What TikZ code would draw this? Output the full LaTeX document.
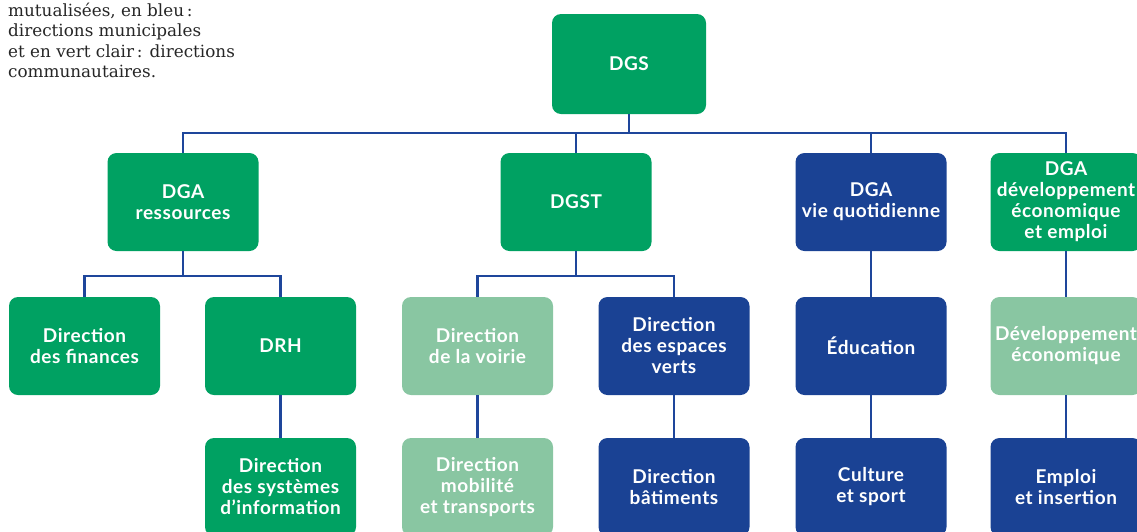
\documentclass[tikz,border=0pt]{standalone}
\usepackage{fontspec}
\newfontfamily\boxfont{Lato}[LetterSpace=3]
\newfontfamily\notefont{DejaVu Serif}
\definecolor{dgreen}{RGB}{0,161,98}
\definecolor{lgreen}{RGB}{137,198,162}
\definecolor{dblue}{RGB}{26,66,148}
\definecolor{lineblue}{RGB}{30,70,155}
\tikzset{
  orgbox/.style={rounded corners=9pt, minimum width=151pt, minimum height=98pt,
    inner sep=0pt, text=white, align=center,
    font=\boxfont\bfseries\fontsize{19}{21}\selectfont},
  gbox/.style={orgbox, fill=dgreen},
  lbox/.style={orgbox, fill=lgreen},
  bbox/.style={orgbox, fill=dblue},
  conn/.style={draw=lineblue, line width=2.7pt},
  note/.style={anchor=base west, inner sep=0pt, text=black!85,
    font=\notefont\fontsize{16.8}{20}\selectfont}
}
\begin{document}
\begin{tikzpicture}[x=1pt,y=-1pt]
\useasboundingbox (0,0) rectangle (1137,531);
% note
\node[note] (note1) at (8,16.5) {mutualisées, en bleu\,:};
\node[note] (note2) at (8,36.8) {directions municipales};
\node[note] (note3) at (8,57) {et en vert clair\,: directions};
\node[note] (note4) at (8,77.3) {communautaires.};
% row 1
\node[gbox, minimum width=154pt, minimum height=100pt] (dgs) at (629,64) {DGS};
% row 2
\node[gbox] (dgar) at (183,202) {DGA\\ressources};
\node[gbox] (dgst) at (576,202) {DGST};
\node[bbox] (dgavq) at (871,202) {DGA\\vie quotidienne};
\node[gbox] (dgade) at (1066,202) {DGA\\développement\\économique\\et emploi};
% row 3
\node[gbox] (fin) at (84.5,346) {Direction\\des finances};
\node[gbox] (drh) at (280.5,346) {DRH};
\node[lbox] (voirie) at (477.5,346) {Direction\\de la voirie};
\node[bbox] (ev) at (674,346) {Direction\\des espaces\\verts};
\node[bbox] (edu) at (871,346) {Éducation};
\node[lbox] (deveco) at (1066,346) {Développement\\économique};
% row 4
\node[gbox] (dsi) at (280.5,487) {Direction\\des systèmes\\d’information};
\node[lbox] (mob) at (477.5,487) {Direction\\mobilité\\et transports};
\node[bbox] (bat) at (674,487) {Direction\\bâtiments};
\node[bbox] (cult) at (871,487) {Culture\\et sport};
\node[bbox] (emploi) at (1066,487) {Emploi\\et insertion};
% connectors
\coordinate (b1) at (629,133);
\coordinate (b2) at (183,276);
\coordinate (b3) at (576,276);
\draw[conn] (dgs.south) -- (b1);
\draw[conn] (dgar.north) |- (b1) -| (dgade.north);
\draw[conn] (dgst.north) -- (dgst.north |- b1);
\draw[conn] (dgavq.north) -- (dgavq.north |- b1);
\draw[conn] (dgar.south) -- (b2);
\draw[conn] (fin.north) |- (b2) -| (drh.north);
\draw[conn] (dgst.south) -- (b3);
\draw[conn] (voirie.north) |- (b3) -| (ev.north);
\draw[conn] (dgavq.south) -- (edu.north);
\draw[conn] (dgade.south) -- (deveco.north);
\draw[conn] (drh.south) -- (dsi.north);
\draw[conn] (voirie.south) -- (mob.north);
\draw[conn] (ev.south) -- (bat.north);
\draw[conn] (edu.south) -- (cult.north);
\draw[conn] (deveco.south) -- (emploi.north);
\end{tikzpicture}
\end{document}
